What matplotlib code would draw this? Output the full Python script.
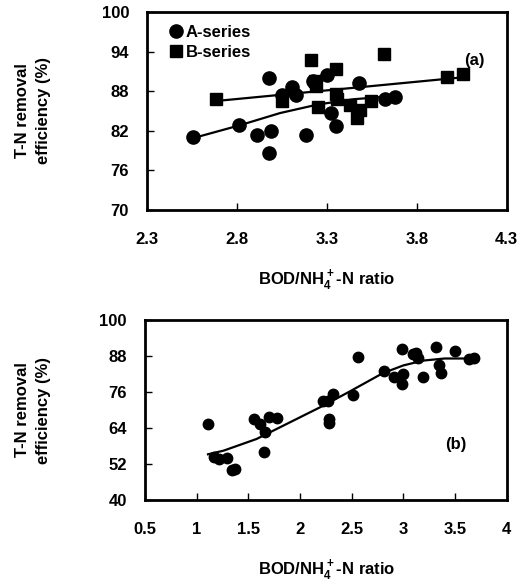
import matplotlib.pyplot as plt

plt.rcParams["font.family"] = ["Liberation Sans", "DejaVu Sans"]
plt.rcParams["font.weight"] = "bold"
plt.rcParams["mathtext.fontset"] = "custom"
plt.rcParams["mathtext.rm"] = "Liberation Sans:bold"
plt.rcParams["mathtext.bf"] = "Liberation Sans:bold"

# panel (a): A-series and B-series
a_x = [2.558, 2.809, 2.913, 2.98, 2.99, 2.98, 3.05, 3.104, 3.13, 3.185, 3.22,
       3.30, 3.325, 3.353, 3.48, 3.625, 3.676]
a_y = [81.1, 82.9, 81.4, 90.0, 81.9, 78.7, 87.4, 88.7, 87.4, 81.3, 89.6,
       90.5, 84.7, 82.7, 89.3, 86.9, 87.1]
b_x = [2.685, 3.05, 3.209, 3.231, 3.24, 3.249, 3.349, 3.349, 3.358, 3.43,
       3.467, 3.485, 3.545, 3.618, 3.967, 4.058]
b_y = [86.9, 86.6, 92.7, 89.6, 88.75, 85.6, 91.4, 87.6, 86.8, 85.9,
       83.9, 85.1, 86.6, 93.6, 90.1, 90.7]
a_fit_x = [2.557, 2.81, 3.04, 3.25, 3.45, 3.68]
a_fit_y = [80.9, 82.8, 84.7, 86.0, 86.8, 87.3]
b_fit_x = [2.712, 4.047]
b_fit_y = [86.6, 90.1]

# panel (b): all data
c_x = [1.109, 1.167, 1.215, 1.295, 1.343, 1.375, 1.551, 1.609, 1.663, 1.654,
       1.696, 1.776, 2.224, 2.272, 2.32, 2.28, 2.28, 2.513, 2.561, 2.817,
       2.913, 2.987, 3.0, 2.987, 3.09, 3.12, 3.14, 3.19, 3.314, 3.346,
       3.362, 3.5, 3.635, 3.683]
c_y = [65.3, 54.4, 53.6, 54.0, 50.0, 50.5, 67.1, 65.4, 62.6, 56.0,
       67.6, 67.4, 72.9, 73.1, 75.3, 67.1, 65.7, 75.1, 87.8, 83.0,
       81.2, 90.2, 81.9, 78.6, 88.6, 89.1, 87.4, 81.2, 91.1, 85.2,
       82.5, 89.7, 86.9, 87.4]
c_fit_x = [1.11, 1.26, 1.58, 1.90, 2.22, 2.48, 2.80, 3.0, 3.19, 3.40, 3.68]
c_fit_y = [55.3, 56.5, 60.4, 65.9, 71.4, 76.2, 82.3, 84.9, 86.5, 87.2, 87.2]

XLABEL = "BOD/NH$_4^+$-N ratio"
YLABEL = "T-N removal\nefficiency (%)"
FS = 12


def style_axes(ax):
    for spine in ax.spines.values():
        spine.set_linewidth(2)
    ax.tick_params(direction="in", length=5, width=1, labelsize=FS)
    ax.tick_params(axis="x", pad=16)
    ax.tick_params(axis="y", pad=13)


fig = plt.figure(figsize=(5.29, 5.83), dpi=100)
ax1 = fig.add_axes([0.278, 0.640, 0.680, 0.339])
ax2 = fig.add_axes([0.274, 0.142, 0.684, 0.309])

ax1.plot(a_x, a_y, "o", color="black", markersize=9.5, label="A-series")
ax1.plot(b_x, b_y, "s", color="black", markersize=8.5, label="B-series")
ax1.plot(a_fit_x, a_fit_y, color="black", linewidth=1.6)
ax1.plot(b_fit_x, b_fit_y, color="black", linewidth=1.6)
ax1.set_xlim(2.3, 4.3)
ax1.set_ylim(70, 100)
ax1.set_xticks([2.3, 2.8, 3.3, 3.8, 4.3])
ax1.set_yticks([70, 76, 82, 88, 94, 100])
ax1.text(4.12, 92.6, "(a)", fontsize=FS, fontweight="bold", ha="center", va="center")
ax1.legend(loc="upper left", bbox_to_anchor=(0.025, 0.985), frameon=False,
           fontsize=FS, handletextpad=0.0, borderaxespad=0.3,
           labelspacing=0.3, handlelength=1.2, borderpad=0.3)
style_axes(ax1)

ax2.plot(c_x, c_y, "o", color="black", markersize=7.5)
ax2.plot(c_fit_x, c_fit_y, color="black", linewidth=1.6)
ax2.set_xlim(0.5, 4)
ax2.set_ylim(40, 100)
ax2.set_xticks([0.5, 1, 1.5, 2, 2.5, 3, 3.5, 4])
ax2.set_xticklabels(["0.5", "1", "1.5", "2", "2.5", "3", "3.5", "4"])
ax2.set_yticks([40, 52, 64, 76, 88, 100])
ax2.text(3.51, 58.5, "(b)", fontsize=FS, fontweight="bold", ha="center", va="center")
style_axes(ax2)

# axis titles placed in figure coordinates
for ycen_px in (111, 410):
    fig.text(33 / 529, 1 - ycen_px / 583, YLABEL, rotation=90, fontsize=FS,
             fontweight="bold", ha="center", va="center", linespacing=1.5)
for ycen_px in (280, 569):
    fig.text(327 / 529, 1 - ycen_px / 583, XLABEL, fontsize=FS,
             fontweight="bold", ha="center", va="center")

fig.savefig("out.png", dpi=100)
